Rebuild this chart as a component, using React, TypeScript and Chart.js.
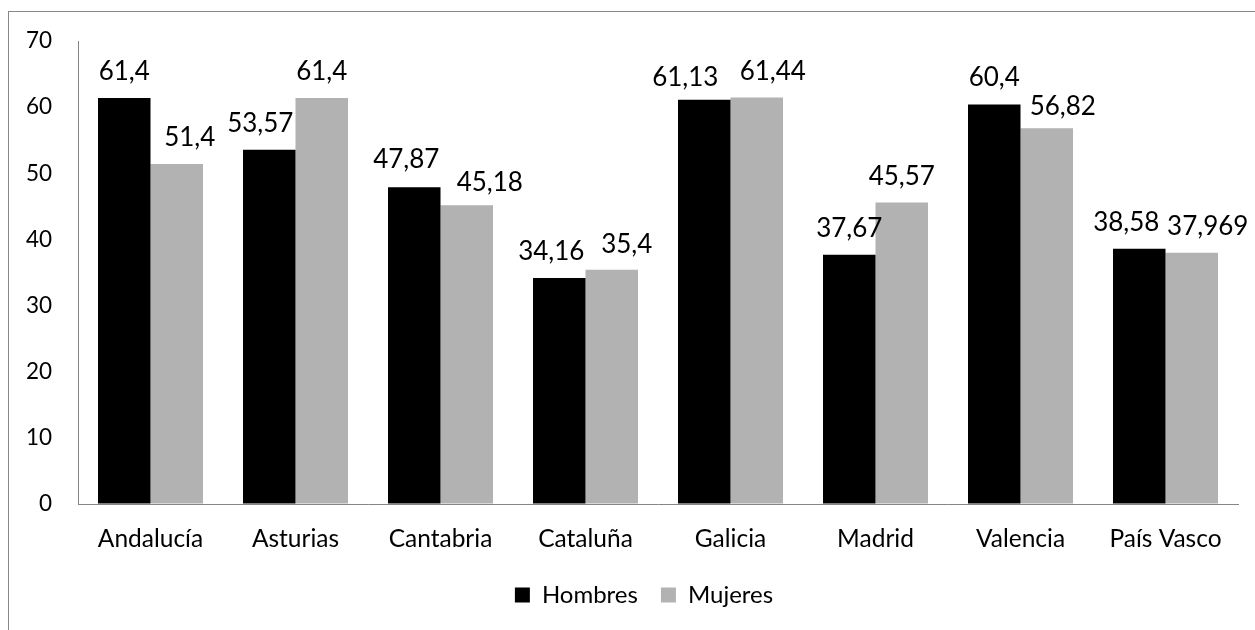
import React, { useEffect, useRef } from "react";
import { Chart, registerables } from "chart.js";

Chart.register(...registerables);

const categories = ["Andalucía", "Asturias", "Cantabria", "Cataluña", "Galicia", "Madrid", "Valencia", "País Vasco"];
const seriesNames = ["Hombres", "Mujeres"];
const hombres = [61.4, 53.57, 47.87, 34.16, 61.13, 37.67, 60.4, 38.58];
const mujeres = [51.4, 61.4, 45.18, 35.4, 61.44, 45.57, 56.82, 37.969];
const yTicks = [0, 10, 20, 30, 40, 50, 60, 70];

const FONT = "Lato";

const valueLabels = {
  id: "valueLabels",
  afterDatasetsDraw(chart: any, _args: any, opts: any) {
    const ctx = chart.ctx;
    ctx.save();
    ctx.font = `${opts.size}px ${opts.family}`;
    ctx.fillStyle = opts.color;
    ctx.textAlign = "center";
    ctx.textBaseline = "alphabetic";
    chart.data.datasets.forEach((ds: any, di: number) => {
      const meta = chart.getDatasetMeta(di);
      meta.data.forEach((bar: any, i: number) => {
        const v = ds.data[i];
        const nudge = (opts.nudges && opts.nudges[di] && opts.nudges[di][i]) || [0, 0];
        ctx.fillText(String(v).replace(".", ","), bar.x + nudge[0], bar.y - opts.gap + nudge[1]);
      });
    });
    ctx.restore();
  },
};

const legendShift = {
  id: "legendShift",
  afterLayout(chart: any, _args: any, opts: any) {
    if (chart.legend) {
      chart.legend.left += opts.dx;
      chart.legend.right += opts.dx;
    }
  },
};

export default function App() {
  const ref = useRef<HTMLCanvasElement | null>(null);

  useEffect(() => {
    if (!ref.current) return;
    const chart = new Chart(ref.current, {
      type: "bar",
      data: {
        labels: categories,
        datasets: [
          { label: seriesNames[0], data: hombres, backgroundColor: "#000000", borderWidth: 0 },
          { label: seriesNames[1], data: mujeres, backgroundColor: "#b2b2b2", borderWidth: 0 },
        ],
      },
      options: {
        responsive: false,
        animation: false,
        devicePixelRatio: 1,
        layout: { padding: { left: 0, right: 17, top: 41, bottom: 13 } },
        datasets: { bar: { categoryPercentage: 105 / 145, barPercentage: 1 } },
        scales: {
          x: {
            grid: { display: true, color: "rgba(0,0,0,0)", drawTicks: false },
            border: { display: true, color: "#868686", width: 1 },
            ticks: { color: "#000", font: { family: FONT, size: 24.5 }, padding: 20.5, maxRotation: 0, autoSkip: false },
            afterFit: (s: any) => {
              s.height = 56;
            },
          },
          y: {
            min: 0,
            max: 70,
            grid: { display: true, color: "rgba(0,0,0,0)", drawTicks: false },
            border: { display: true, color: "#868686", width: 1 },
            ticks: { color: "#000", font: { family: FONT, size: 22.5 }, padding: 26 },
            afterBuildTicks: (s: any) => {
              s.ticks = yTicks.map((v) => ({ value: v }));
            },
            afterFit: (s: any) => {
              s.width = 78;
            },
          },
        },
        plugins: {
          legend: {
            position: "bottom",
            labels: { boxWidth: 15, boxHeight: 15, padding: 23, color: "#000", font: { family: FONT, size: 24 } },
          },
          tooltip: { enabled: false },
          legendShift: { dx: 25 },
          valueLabels: {
            family: FONT,
            size: 26,
            color: "#000",
            gap: 18,
            nudges: [
              [[0, 0], [-9, 0], [-8, -1], [-8, 0], [-19, 4.5], [0, 0], [0, 0], [-13, 0]],
              [[13, 0], [0, 0], [23, 4], [15, 1], [16, 0], [0, 0], [16, 4.5], [16, 0]],
            ],
          },
        } as any,
      },
      plugins: [valueLabels, legendShift],
    });
    return () => chart.destroy();
  }, []);

  return (
    <div>
      <div
        style={{
          position: "fixed",
          left: 8,
          top: 11,
          right: 0,
          bottom: 0,
          borderLeft: "1px solid #888888",
          borderTop: "1px solid #888888",
          background: "#ffffff",
        }}
      />
      <canvas
        ref={ref}
        width={1255}
        height={630}
        style={{ position: "fixed", left: 0, top: 0, width: 1255, height: 630 }}
      />
    </div>
  );
}
